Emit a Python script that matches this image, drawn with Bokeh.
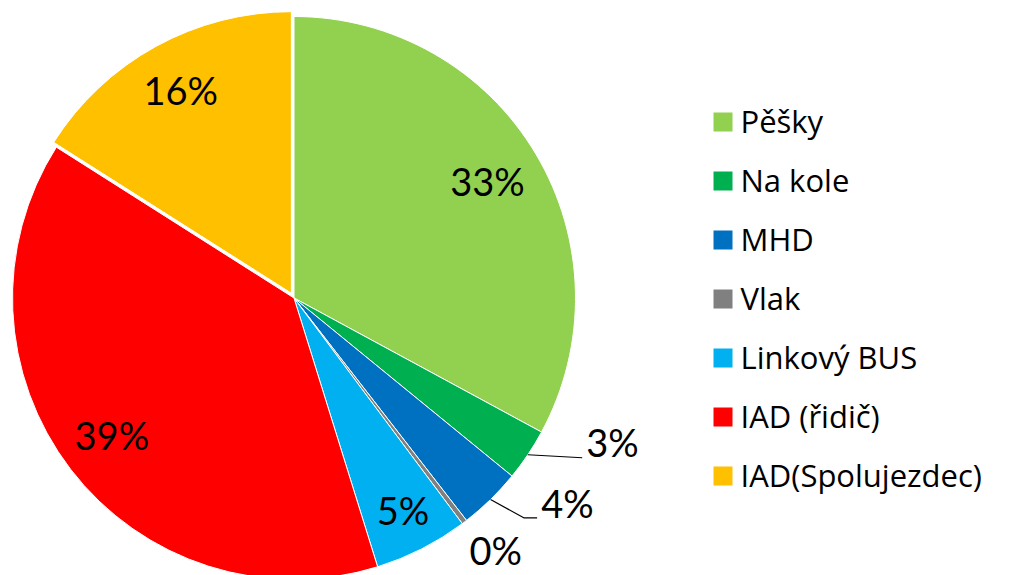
import math
from bokeh.plotting import figure
from bokeh.models import ColumnDataSource, Range1d, Legend, LegendItem
from bokeh.core.properties import value
from bokeh.embed import file_html
from bokeh.resources import INLINE

# ---- data ----
categories = ["Pěšky", "Na kole", "MHD", "Vlak", "Linkový BUS", "IAD (řidič)", "IAD(Spolujezdec)"]
shares = [32.9, 3.0, 3.6, 0.3, 5.4, 38.8, 16.0]
colors = ["#92D050", "#00B050", "#0070C0", "#808080", "#00B0F0", "#FF0000", "#FFC000"]

# ---- layout ----
W, H = 1010, 575
CX, CY, R = 293.5, -297.5, 281.5
EXPLODE = [0, 0, 0, 0, 0, 0, 5.5]
FONT = "Lato"
LABEL_SIZE = "38px"

total = sum(shares)
start_a, end_a, mid_a, xs, ys, labels = [], [], [], [], [], []
cum = 0.0
for s, e in zip(shares, EXPLODE):
    cw0 = cum / total * 360.0
    cum += s
    cw1 = cum / total * 360.0
    m = math.radians(90 - (cw0 + cw1) / 2)
    start_a.append(math.radians(90 - cw0))
    end_a.append(math.radians(90 - cw1))
    mid_a.append(m)
    xs.append(CX + e * math.cos(m))
    ys.append(CY + e * math.sin(m))
    labels.append(f"{round(s / total * 100)}%")

src = ColumnDataSource(dict(x=xs, y=ys, start=start_a, end=end_a, color=colors, cat=categories))

p = figure(width=W, height=H, x_range=Range1d(0, W), y_range=Range1d(-H, 0),
           output_backend="svg", toolbar_location=None, min_border=0,
           x_axis_location=None, y_axis_location=None)
p.grid.visible = False
p.outline_line_color = None

wr = p.wedge(x="x", y="y", radius=R, start_angle="start", end_angle="end", direction="clock",
             fill_color="color", line_color="white", line_width=1, source=src)

# inside labels
inside = {0: 0.80, 4: 0.853, 5: 0.815, 6: 0.816}
ix, iy, it = [], [], []
for i, f in inside.items():
    ix.append(xs[i] + f * R * math.cos(mid_a[i]))
    iy.append(ys[i] + f * R * math.sin(mid_a[i]) + 2)
    it.append(labels[i])
p.text(x=ix, y=iy, text=it, text_font=value(FONT), text_font_size=LABEL_SIZE,
       text_align="center", text_baseline="middle", text_color="black")

# outside labels with leader lines
rim = {i: (xs[i] + R * math.cos(mid_a[i]), ys[i] + R * math.sin(mid_a[i])) for i in (1, 2, 3)}
text_off = {1: (58.4, 12.3), 2: (50.6, -3.3), 3: (5.0, -28.0)}
ox, oy, ot = [], [], []
for i, (dx, dy) in text_off.items():
    ox.append(rim[i][0] + dx)
    oy.append(rim[i][1] + dy)
    ot.append(labels[i])
p.text(x=ox, y=oy, text=ot, text_font=value(FONT), text_font_size=LABEL_SIZE,
       text_align="left", text_baseline="middle", text_color="black")

lead_pts = {1: [(0, 0), (54.4, -3.0)], 2: [(0, 0), (33.2, -18.3), (46.6, -18.3)]}
lx, ly = [], []
for i, pts in lead_pts.items():
    lx.append([rim[i][0] + a for a, b in pts])
    ly.append([rim[i][1] + b for a, b in pts])
p.multi_line(xs=lx, ys=ly, line_color="black", line_width=1.2)

items = [LegendItem(label=c, renderers=[wr], index=i) for i, c in enumerate(categories)]
legend = Legend(items=items, location=(709.5, 79), glyph_width=25, glyph_height=25,
                label_text_font="Open Sans", label_text_font_size="31px", label_standoff=6,
                spacing=17, padding=0, margin=0, border_line_alpha=0,
                background_fill_alpha=0, label_text_color="black")
p.add_layout(legend)

open("out.html", "w").write(file_html(p, INLINE))
